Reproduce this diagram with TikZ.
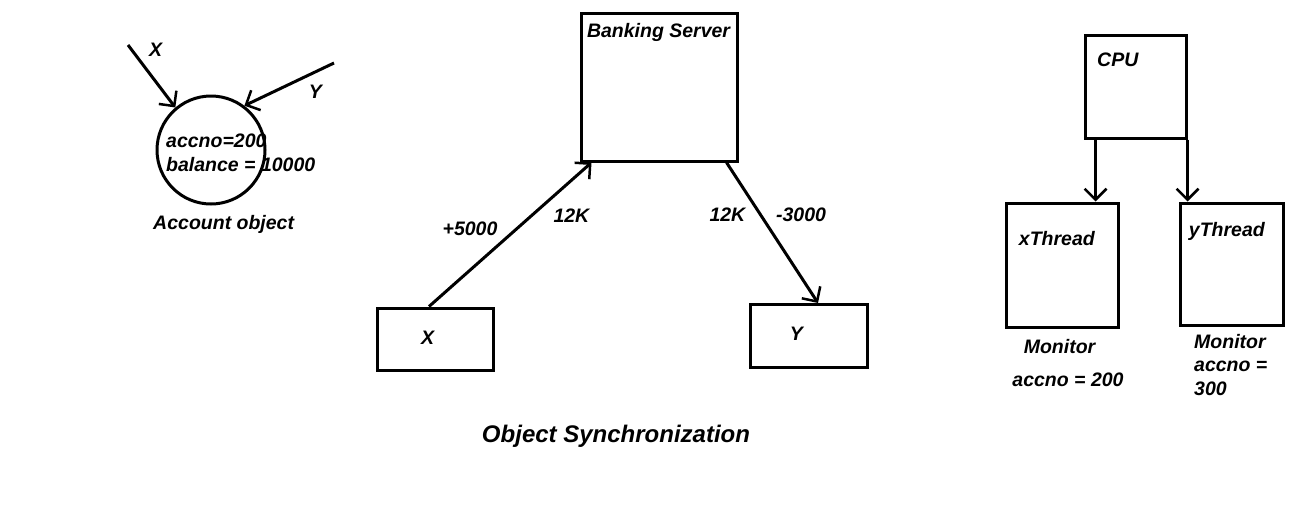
\documentclass[tikz,border=0pt]{standalone}
\usepackage{fontspec}
\setmainfont{Liberation Sans}
\usepackage{tikz}
\usetikzlibrary{arrows.meta,positioning}
\newcommand{\lbl}[1]{\textbf{\textit{#1}}}

\begin{document}
\begin{tikzpicture}[x=1pt,y=-1pt,
  font=\fontsize{19.5}{23.5}\selectfont,
  box/.style={draw,line width=3pt,inner sep=0pt},
  arr/.style={-{Straight Barb[length=11pt,width=22pt,line width=2.5pt]},line width=3pt},
  txt/.style={inner sep=0pt,anchor=west,align=left},
]
\useasboundingbox (0,0) rectangle (1297,531);

% account object
\node[box,circle,minimum size=108pt] (acct) at (211,150) {};
\node[txt] (accno) at (166,141) {\lbl{accno=200}};
\node[txt] (bal)   at (166,165) {\lbl{balance = 10000}};
\node[inner sep=0pt] (acctlbl) at (224,224) {\lbl{Account object}};
\coordinate (xin) at (128,45);
\coordinate (yin) at (334,63);
\node[inner sep=0pt] (xl) at (156,50) {\lbl{X}};
\node[inner sep=0pt] (yl) at (316,92) {\lbl{Y}};
\draw[arr] (xin) -- (acct.130);
\draw[arr] (yin) -- (acct.53);

% banking server
\node[box,minimum width=156pt,minimum height=148pt] (server) at (659,87) {};
\node[inner sep=0pt,below=12pt of server.north] (srvlbl) {\lbl{Banking Server}};
\node[box,minimum width=116pt,minimum height=62pt] (xbox) at (435,339) {};
\node[box,minimum width=117pt,minimum height=63pt] (ybox) at (809,336) {};
\node[inner sep=0pt] (xlbl) at (428,338) {\lbl{X}};
\node[inner sep=0pt] (ylbl) at (797,334) {\lbl{Y}};
\draw[arr] ([xshift=-6pt]xbox.north) -- ([xshift=12pt]server.south west);
\draw[arr] ([xshift=-12pt]server.south east) -- ([xshift=9pt]ybox.north);
\node[inner sep=0pt] (dep)  at (470,229) {\lbl{+5000}};
\node[inner sep=0pt] (bal1) at (572,216) {\lbl{12K}};
\node[inner sep=0pt] (bal2) at (728,215) {\lbl{12K}};
\node[inner sep=0pt] (wdr)  at (801,215) {\lbl{-3000}};

% cpu and threads
\node[box,minimum width=101pt,minimum height=103pt] (cpu) at (1135.5,86.5) {};
\node[inner sep=0pt] (cpulbl) at (1118,60) {\lbl{CPU}};
\node[box,minimum width=112pt,minimum height=124pt] (xthr) at (1062,265) {};
\node[box,minimum width=103pt,minimum height=122pt] (ythr) at (1231.5,264) {};
\node[inner sep=0pt] (xthrlbl) at (1057,239) {\lbl{xThread}};
\node[inner sep=0pt] (ythrlbl) at (1227,231) {\lbl{yThread}};
\draw[arr] ([xshift=12pt]cpu.south west) -- ([xshift=12pt]cpu.south west |- xthr.north);
\draw[arr] (cpu.south east) -- (cpu.south east |- ythr.north);
\node[inner sep=0pt] (mon1) at (1060,347) {\lbl{Monitor}};
\node[inner sep=0pt] (acc1) at (1068,380) {\lbl{accno = 200}};
\node[txt,anchor=north west] (mon2) at (1194,334) {\lbl{Monitor}\\\lbl{accno =}\\\lbl{300}};

% title
\node[inner sep=0pt,font=\fontsize{24}{28}\selectfont] (title) at (616,436) {\lbl{Object Synchronization}};
\end{tikzpicture}
\end{document}
